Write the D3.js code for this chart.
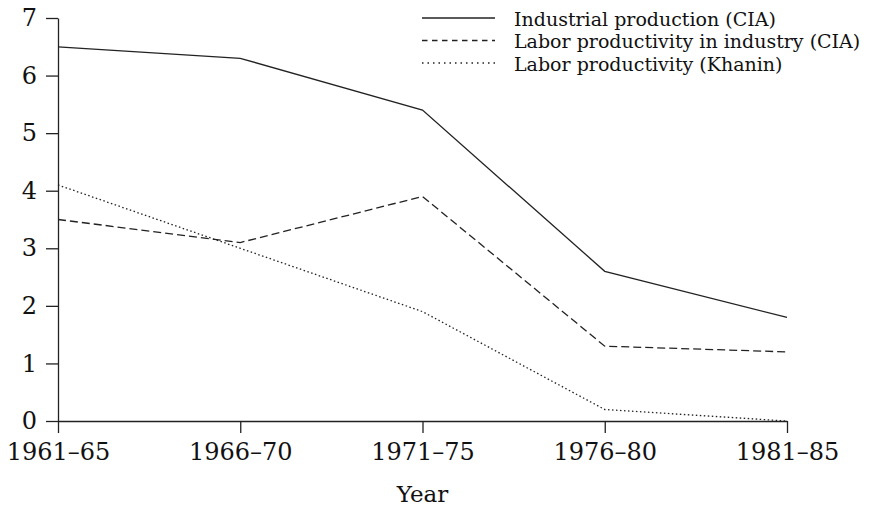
<!DOCTYPE html>
<html lang="en">
<head>
<meta charset="UTF-8">
<title>Industrial production and labor productivity</title>
<style>
  body { margin: 0; background: #fff; }
  .axis text { font-family: "DejaVu Serif", serif; font-size: 24px; fill: #111; }
  .axis path, .axis line { stroke: #222; stroke-width: 1.3; }
  .legend text { font-family: "DejaVu Serif", serif; font-size: 19px; fill: #111; }
  .series { fill: none; stroke: #222; stroke-width: 1.3; }
</style>
</head>
<body>
<div class="chart"></div>
<script src="https://d3js.org/d3.v7.min.js"></script>
<script>
var periods = ["1961–65", "1966–70", "1971–75", "1976–80", "1981–85"];
var industrialCIA = [6.5, 6.3, 5.4, 2.6, 1.8];
var laborIndustryCIA = [3.5, 3.1, 3.9, 1.3, 1.2];
var laborKhanin = [4.1, 3.0, 1.9, 0.2, 0.0];
var yTicks = [0, 1, 2, 3, 4, 5, 6, 7];

var seriesNames = ["Industrial production (CIA)", "Labor productivity in industry (CIA)", "Labor productivity (Khanin)"];
var series = [industrialCIA, laborIndustryCIA, laborKhanin];
var dashes = [null, "8,4", "1.5,2.5"];
var legendDashes = [null, "5.5,4.5", "1.5,4"];

var margin = {top: 18, right: 90, bottom: 87, left: 58};
var width = 877, height = 508,
    w = width - margin.left - margin.right,
    h = height - margin.top - margin.bottom;

var svg = d3.select(".chart").append("svg")
    .attr("width", width)
    .attr("height", height)
  .append("g")
    .attr("transform", "translate(" + margin.left + "," + margin.top + ")");

var x = d3.scalePoint()
    .domain(periods)
    .range([0, w]);

var y = d3.scaleLinear()
    .domain([0, 7])
    .range([h, 0]);

var yaxis = d3.axisLeft(y)
    .tickValues(yTicks)
    .tickFormat(d3.format("d"))
    .tickSize(12)
    .tickSizeOuter(0)
    .tickPadding(9);

var xaxis = d3.axisBottom(x)
    .tickSize(12)
    .tickSizeOuter(0)
    .tickPadding(10);

svg.append("g")
    .attr("class", "axis")
    .call(yaxis);

svg.append("g")
    .attr("class", "axis")
    .attr("transform", "translate(0," + h + ")")
    .call(xaxis);

svg.append("text")
    .attr("x", x("1971–75"))
    .attr("y", h + 81)
    .attr("text-anchor", "middle")
    .style("font-family", "DejaVu Serif, serif")
    .style("font-size", "23px")
    .style("fill", "#111")
    .text("Year");

var line = d3.line()
    .x(function(d, i) { return x(periods[i]); })
    .y(function(d) { return y(d); });

series.forEach(function(s, i) {
    svg.append("path")
        .datum(s)
        .attr("class", "series")
        .attr("stroke-dasharray", dashes[i])
        .attr("d", line);
});

// legend, top right
var legend = svg.append("g")
    .attr("class", "legend")
    .attr("transform", "translate(364,0)");

seriesNames.forEach(function(name, i) {
    var row = legend.append("g")
        .attr("transform", "translate(0," + (i * 22.5) + ")");
    row.append("line")
        .attr("class", "series")
        .attr("x1", 0).attr("x2", 73)
        .attr("y1", 0).attr("y2", 0)
        .attr("stroke-dasharray", legendDashes[i]);
    row.append("text")
        .attr("x", 92)
        .attr("y", 7.5)
        .text(name);
});
</script>
</body>
</html>
